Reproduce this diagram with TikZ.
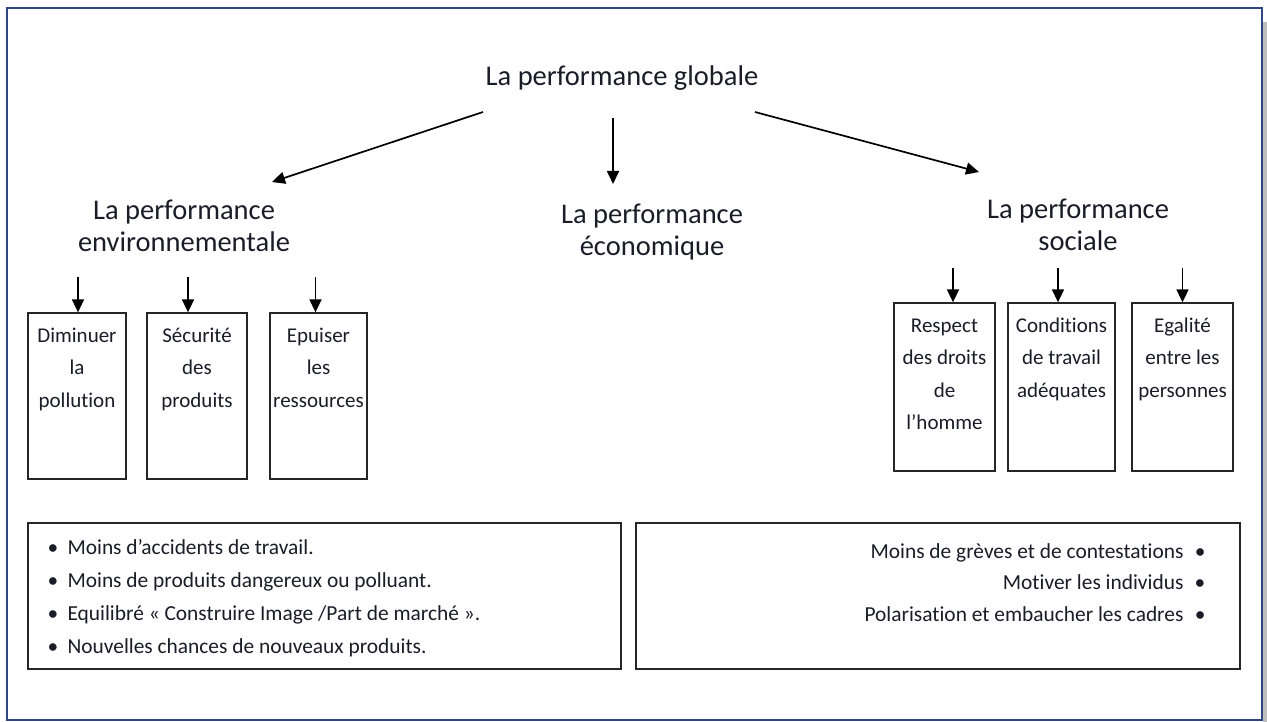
\documentclass[tikz,border=0pt]{standalone}
\usepackage{fontspec}
\setmainfont{Carlito}[Ligatures={NoCommon,NoRequired,NoContextual,NoRare}]
\usetikzlibrary{arrows.meta}
\definecolor{frameblue}{RGB}{47,72,130}
\definecolor{shadowgray}{RGB}{190,190,190}
\definecolor{ink}{RGB}{28,28,40}
% keeps t and i apart (no "ti" ligature)
\newcommand\tibreak{\kern0pt\relax}
\begin{document}
\begin{tikzpicture}[x=1pt,y=-1pt,
  arr/.style={line width=1.7pt,-{Triangle[length=13pt,width=12pt]}},
  heading/.style={inner sep=0pt,align=center,text=ink,font=\fontsize{28.5}{32.5}\selectfont},
  itembox/.style={draw=black!85,line width=1.3pt,inner sep=0pt,minimum height=#1},
  itemtext/.style={anchor=base,inner sep=0pt,align=center,text=ink,font=\fontsize{21}{32.5}\selectfont},
  listbox/.style={draw=black!85,line width=1.3pt,inner sep=0pt,minimum height=146pt},
  listtext/.style={inner sep=0pt,text=ink,font=\fontsize{21.4}{33}\selectfont}
]
% page and framed panel
\fill[white] (0,0) rectangle (1267,722);
\useasboundingbox (0,0) rectangle (1267,722);
\fill[shadowgray] (1263,22) rectangle (1267,722);
\draw[frameblue,line width=2pt] (7,8) rectangle (1262,720);

% headings
\node[heading] (glob) at (622,78) {La performance globale};
\node[heading] (env) at (184,226) {La performance\\environnementale};
\node[heading] (eco) at (652,232) {La performance\\économique};
\node[heading] (soc) at (1078,225) {La performance\\sociale};

% arrows from the global performance
\coordinate (gL) at (483,112);
\coordinate (gM) at (613,118);
\coordinate (gR) at (755,112);
\coordinate (envTip) at (272,182);
\coordinate (ecoTip) at (613,184);
\coordinate (socTip) at (979,172);
\draw[arr] (gL) -- (envTip);
\draw[arr] (gM) -- (ecoTip);
\draw[arr] (gR) -- (socTip);

% environmental items (text anchored on the baseline of its last line)
\node[itembox=166pt,minimum width=98pt] (e1) at (77,396) {};
\node[itembox=166pt,minimum width=100pt] (e2) at (197,396) {};
\node[itembox=166pt,minimum width=97pt] (e3) at (318.5,396) {};
\node[itemtext] (e1t) at ([yshift=-95pt]e1.north) {Diminuer\\la\\pollut\tibreak ion};
\node[itemtext] (e2t) at ([yshift=-95pt]e2.north) {Sécurité\\des\\produits};
\node[itemtext] (e3t) at ([yshift=-95pt]e3.north) {Epuiser\\les\\ressources};
\draw[arr] ([xshift=1pt,yshift=35pt]e1.north) -- ([xshift=1pt]e1.north);
\draw[arr] ([xshift=-9pt,yshift=35pt]e2.north) -- ([xshift=-9pt]e2.north);
\draw[arr] ([xshift=-3pt,yshift=35pt]e3.north) -- ([xshift=-3pt]e3.north);

% social items
\node[itembox=168pt,minimum width=101pt] (s1) at (944.5,387) {};
\node[itembox=168pt,minimum width=107pt] (s2) at (1061.5,387) {};
\node[itembox=168pt,minimum width=101pt] (s3) at (1182.5,387) {};
\node[itemtext] (s1t) at ([yshift=-127.5pt]s1.north) {Respect\\des droits\\de\\l’homme};
\node[itemtext] (s2t) at ([yshift=-95pt]s2.north) {Condit\tibreak ions\\de travail\\adéquates};
\node[itemtext] (s3t) at ([yshift=-95pt]s3.north) {Egalité\\entre les\\personnes};
\draw[arr] ([xshift=8.5pt,yshift=34pt]s1.north) -- ([xshift=8.5pt]s1.north);
\draw[arr] ([xshift=-3.5pt,yshift=34pt]s2.north) -- ([xshift=-3.5pt]s2.north);
\draw[arr] ([yshift=34pt]s3.north) -- (s3.north);

% lists of effects
\node[listbox,minimum width=593pt] (envlist) at (324.5,596) {};
\node[listbox,minimum width=604pt] (soclist) at (938,596) {};
\node[listtext,anchor=base west,align=left] (envlistt) at ([xshift=20pt,yshift=-131pt]envlist.north west)
  {\makebox[20pt][l]{•}Moins d’accidents de travail.\\
   \makebox[20pt][l]{•}Moins de produits dangereux ou polluant.\\
   \makebox[20pt][l]{•}Equilibré « Construire Image /Part de marché ».\\
   \makebox[20pt][l]{•}Nouvelles chances de nouveaux produits.};
\node[listtext,anchor=base east,align=right,font=\fontsize{21.4}{31.5}\selectfont] (soclistt) at ([xshift=-35pt,yshift=-99pt]soclist.north east)
  {Moins de grèves et de contestat\tibreak ions\makebox[22pt][r]{•}\\
   Motiver les individus\makebox[22pt][r]{•}\\
   Polarisat\tibreak ion et embaucher les cadres\makebox[22pt][r]{•}};
\end{tikzpicture}
\end{document}
